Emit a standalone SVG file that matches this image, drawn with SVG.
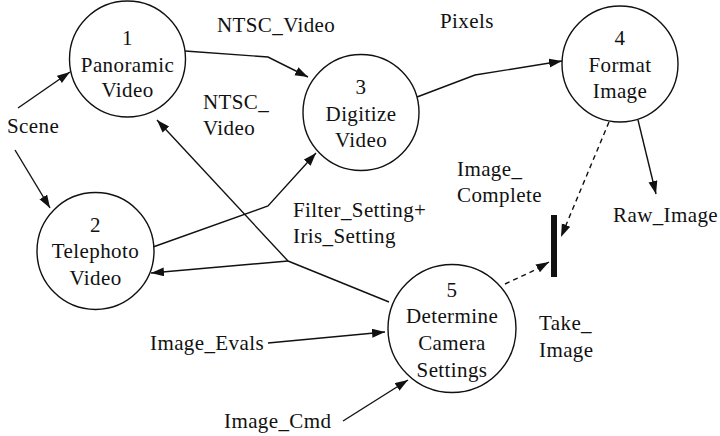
<svg xmlns="http://www.w3.org/2000/svg" width="720" height="436" viewBox="0 0 720 436">
<style>
text{font-family:"Liberation Serif","Times New Roman",serif;font-size:21px;fill:#111;letter-spacing:0.4px}
.c{text-anchor:middle}
.node circle{fill:#fff;stroke:#111;stroke-width:1.4}
.e{fill:none;stroke:#111;stroke-width:1.4}
.d{stroke-dasharray:5 4}
</style>
<defs>
<marker id="a" markerUnits="userSpaceOnUse" markerWidth="14" markerHeight="10" refX="13" refY="4.5" orient="auto">
<path d="M0,0 L13,4.5 L0,9 z" fill="#111"/>
</marker>
</defs>
<g id="edges">
<path class="e" d="M18,108 L70,72" marker-end="url(#a)"/>
<path class="e" d="M15,150 L50,208" marker-end="url(#a)"/>
<path class="e" d="M185,51 L268,57 L308,77" marker-end="url(#a)"/>
<path class="e" d="M417,97 L475,75 L562,61" marker-end="url(#a)"/>
<path class="e" d="M638,120 L656,194" marker-end="url(#a)"/>
<path class="e d" d="M609,122 L561,237" marker-end="url(#a)"/>
<path class="e d" d="M505,284 L533,271 L549,262" marker-end="url(#a)"/>
<path class="e" d="M153,247 L268,206 L316,153" marker-end="url(#a)"/>
<path class="e" d="M389,302 L288,261"/>
<path class="e" d="M288,261 L157,120" marker-end="url(#a)"/>
<path class="e" d="M288,261 L151,273" marker-end="url(#a)"/>
<path class="e" d="M268,343 L385,332" marker-end="url(#a)"/>
<path class="e" d="M343,421 L408,380" marker-end="url(#a)"/>
<rect x="551" y="215" width="6" height="62" fill="#111"/>
<text x="7" y="133">Scene</text>
<text x="217" y="32">NTSC_Video</text>
<text x="203" y="109">NTSC_</text>
<text x="203" y="135">Video</text>
<text x="440" y="28">Pixels</text>
<text x="457" y="176">Image_</text>
<text x="457" y="202">Complete</text>
<text x="613" y="222">Raw_Image</text>
<text x="293" y="217">Filter_Setting+</text>
<text x="293" y="243">Iris_Setting</text>
<text x="539" y="330">Take_</text>
<text x="539" y="357">Image</text>
<text x="150" y="350">Image_Evals</text>
<text x="224" y="428">Image_Cmd</text>
</g>
<g id="n1" class="node">
<circle cx="127.5" cy="59" r="58"/>
<text class="c" x="127.5" y="45">1</text>
<text class="c" x="127.5" y="72">Panoramic</text>
<text class="c" x="127.5" y="97">Video</text>
</g>
<g id="n2" class="node">
<circle cx="95.5" cy="251" r="58.5"/>
<text class="c" x="95.5" y="232">2</text>
<text class="c" x="95.5" y="258">Telephoto</text>
<text class="c" x="95.5" y="285">Video</text>
</g>
<g id="n3" class="node">
<circle cx="361" cy="112.5" r="58"/>
<text class="c" x="361" y="94">3</text>
<text class="c" x="361" y="121">Digitize</text>
<text class="c" x="361" y="147">Video</text>
</g>
<g id="n4" class="node">
<circle cx="620" cy="64" r="58"/>
<text class="c" x="620" y="45">4</text>
<text class="c" x="620" y="72">Format</text>
<text class="c" x="620" y="98">Image</text>
</g>
<g id="n5" class="node">
<circle cx="452" cy="328.5" r="64"/>
<text class="c" x="452" y="297">5</text>
<text class="c" x="452" y="323">Determine</text>
<text class="c" x="452" y="350">Camera</text>
<text class="c" x="452" y="377">Settings</text>
</g>
</svg>
